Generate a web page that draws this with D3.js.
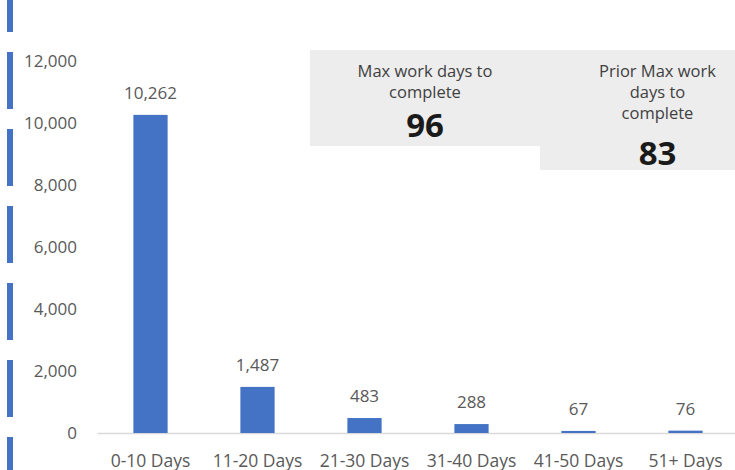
<!DOCTYPE html>
<html>
<head>
<meta charset="utf-8">
<script src="https://cdn.jsdelivr.net/npm/d3@7"></script>
<style>
  body { margin: 0; background: #fff; }
  svg { display: block; font-family: "Open Sans", sans-serif; }
</style>
</head>
<body>
<svg id="chart"></svg>
<script>
// data
const categories = ['0-10 Days', '11-20 Days', '21-30 Days', '31-40 Days', '41-50 Days', '51+ Days']
const counts = [10262, 1487, 483, 288, 67, 76]
const yTicks = [0, 2000, 4000, 6000, 8000, 10000, 12000]
const calloutLabels = [['Max work days to', 'complete'], ['Prior Max work', 'days to', 'complete']]
const calloutValues = [96, 83]

const width = 735
const height = 470
const blue = '#4472c4'
const textGrey = '#595959'

const margin = { top: 61, right: -4, bottom: 37, left: 97 }
const innerWidth = width - margin.left - margin.right
const innerHeight = height - margin.top - margin.bottom

const svg = d3.select('#chart')
    .attr('width', width)
    .attr('height', height)

// decorative dashed bar down the left edge
svg.append('line')
    .attr('x1', 10).attr('x2', 10)
    .attr('y1', 0).attr('y2', height)
    .attr('stroke', blue)
    .attr('stroke-width', 6)
    .attr('stroke-dasharray', '57,20')
    .attr('stroke-dashoffset', 25)

const g = svg.append('g')
    .attr('transform', `translate(${margin.left}, ${margin.top})`)

const x = d3.scaleBand()
    .domain(categories)
    .range([0, innerWidth])
    .paddingInner(0.68)
    .paddingOuter(0.34)

const y = d3.scaleLinear()
    .domain([0, 12000])
    .range([innerHeight, 0])

// y axis, labels only
const yAxisG = g.append('g')
    .call(d3.axisLeft(y).tickValues(yTicks).tickSize(0).tickPadding(20).tickFormat(d3.format(',')))
yAxisG.select('.domain').remove()
yAxisG.selectAll('text')
    .attr('fill', textGrey)
    .style('font-size', '17px')
    .style('font-family', '"Open Sans", sans-serif')

// x axis
const xAxisG = g.append('g')
    .attr('transform', `translate(0, ${innerHeight})`)
    .call(d3.axisBottom(x).tickSize(0))
xAxisG.select('.domain')
    .attr('stroke', '#d9d9d9')
    .attr('stroke-width', 1.5)
xAxisG.selectAll('text')
    .attr('y', 34)
    .attr('dy', 0)
    .attr('fill', textGrey)
    .style('font-size', '17.5px')
    .style('font-family', '"Open Sans", sans-serif')

// bars
g.selectAll('.bar')
    .data(counts)
    .enter()
    .append('rect')
        .attr('class', 'bar')
        .attr('x', (d, i) => x(categories[i]))
        .attr('width', x.bandwidth())
        .attr('y', d => y(d))
        .attr('height', d => innerHeight - y(d))
        .attr('fill', blue)

// value labels above bars
g.selectAll('.value')
    .data(counts)
    .enter()
    .append('text')
        .attr('class', 'value')
        .attr('x', (d, i) => x(categories[i]) + x.bandwidth() / 2)
        .attr('y', d => y(d) - 16)
        .attr('text-anchor', 'middle')
        .attr('fill', textGrey)
        .style('font-size', '17px')
        .text(d3.format(','))

// grey callout boxes in the top right
const boxes = [
    { x: 310, y: 50, w: 230, h: 96, lineY: 71, valueY: 137 },
    { x: 540, y: 50, w: 235, h: 120, lineY: 71, valueY: 165 }
]

boxes.forEach((b, i) => {
    const bg = svg.append('g')
    bg.append('rect')
        .attr('x', b.x).attr('y', b.y)
        .attr('width', b.w).attr('height', b.h)
        .attr('fill', '#ededed')
    const cx = b.x + b.w / 2
    calloutLabels[i].forEach((t, j) => {
        bg.append('text')
            .attr('x', cx)
            .attr('y', b.lineY + j * 21)
            .attr('dy', '0.35em')
            .attr('text-anchor', 'middle')
            .attr('fill', '#404040')
            .style('font-size', '16.5px')
            .text(t)
    })
    bg.append('text')
        .attr('x', cx)
        .attr('y', b.valueY)
        .attr('text-anchor', 'middle')
        .attr('fill', '#1a1a1a')
        .style('font-size', '33px')
        .style('font-weight', 'bold')
        .text(calloutValues[i])
})
</script>
</body>
</html>
